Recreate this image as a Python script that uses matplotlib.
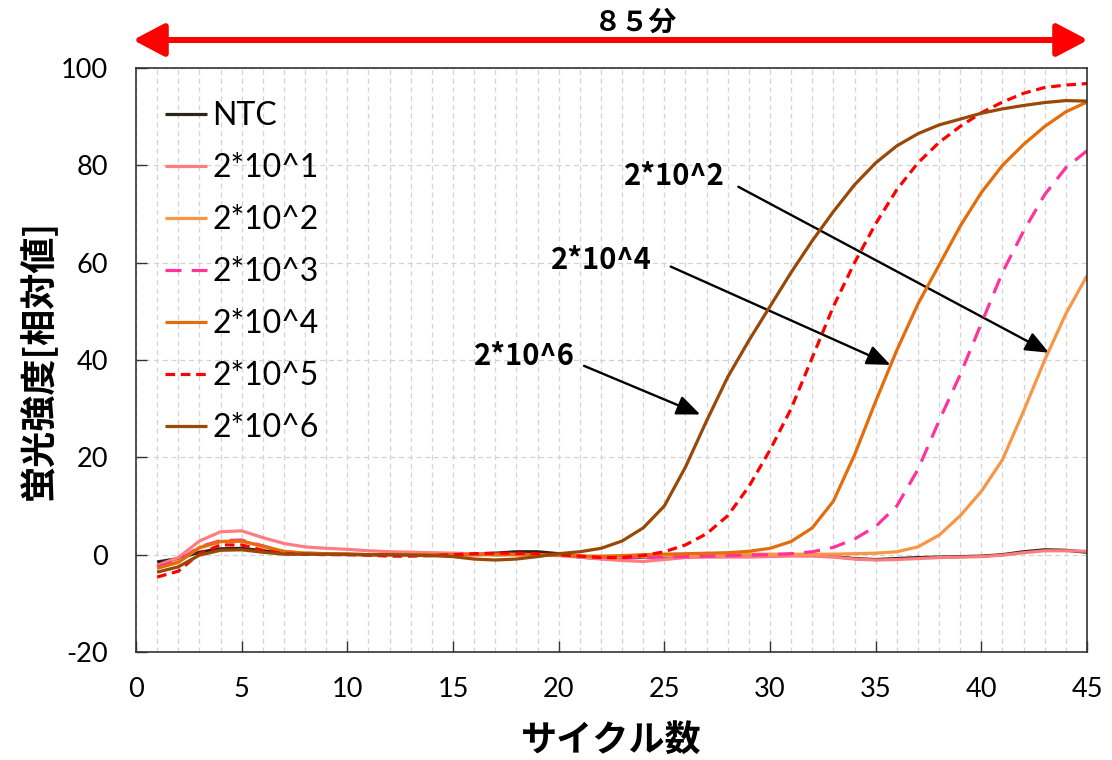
import matplotlib
matplotlib.use("Agg")
import matplotlib.pyplot as plt
from matplotlib.patches import FancyArrowPatch, ArrowStyle

plt.rcParams["axes.unicode_minus"] = False

cycles = list(range(1, 46))

ntc = [-1.5, -0.8, 0.5, 1.2, 1.3, 0.8, 0.3, 0.2, 0.2, 0.1,
       0.0, 0.0, 0.0, 0.0, 0.0, 0.1, 0.3, 0.6, 0.6, 0.2,
       -0.5, -0.8, -0.7, -0.5, -0.3, -0.2, -0.1, 0.0, 0.0, 0.0,
       0.0, -0.1, -0.4, -0.8, -1.0, -0.8, -0.6, -0.5, -0.4, -0.3,
       0.0, 0.6, 1.0, 0.9, 0.5]
s1 = [-2.2, -0.6, 2.8, 4.7, 4.9, 3.5, 2.3, 1.6, 1.3, 1.1,
      0.8, 0.6, 0.5, 0.4, 0.3, 0.2, 0.1, 0.1, 0.0, -0.2,
      -0.5, -0.9, -1.2, -1.4, -1.0, -0.6, -0.5, -0.5, -0.5, -0.4,
      -0.3, -0.3, -0.5, -0.9, -1.1, -1.0, -0.8, -0.6, -0.5, -0.4,
      -0.1, 0.4, 0.8, 0.8, 0.7]
s2 = [-2.6, -1.4, 1.5, 2.7, 2.8, 1.8, 0.7, 0.3, 0.2, 0.1,
      0.0, 0.0, 0.0, 0.0, 0.0, 0.0, 0.0, 0.0, 0.0, 0.0,
      -0.3, -0.5, -0.5, -0.4, -0.2, 0.0, 0.0, 0.1, 0.1, 0.1,
      0.1, 0.1, 0.1, 0.2, 0.3, 0.6, 1.6, 4.0, 8.0, 13.0,
      19.5, 29.5, 40.0, 49.5, 57.3]
s3 = [-2.5, -1.3, 1.6, 2.9, 3.0, 1.8, 0.6, 0.3, 0.2, 0.1,
      0.0, 0.0, 0.0, 0.0, 0.0, 0.0, 0.0, 0.0, 0.0, -0.1,
      -0.3, -0.5, -0.6, -0.6, -0.5, -0.4, -0.3, -0.2, -0.1, 0.0,
      0.2, 0.6, 1.5, 3.2, 5.8, 10.0, 17.5, 27.5, 37.0, 47.5,
      58.0, 66.5, 74.0, 79.5, 83.0]
s4 = [-2.8, -1.6, 1.4, 2.7, 2.8, 1.7, 0.6, 0.3, 0.2, 0.1,
      0.0, 0.0, 0.0, 0.0, 0.0, 0.0, 0.0, 0.0, 0.0, -0.1,
      -0.3, -0.3, -0.2, 0.0, 0.1, 0.2, 0.3, 0.4, 0.7, 1.3,
      2.7, 5.5, 11.0, 20.5, 31.5, 42.0, 51.5, 59.5, 67.5, 74.4,
      80.0, 84.3, 88.0, 91.0, 93.0]
s5 = [-4.6, -3.4, 0.2, 2.0, 2.0, 0.9, 0.2, 0.1, 0.0, 0.0,
      -0.1, -0.3, -0.3, -0.2, 0.0, 0.2, 0.3, 0.3, 0.2, 0.0,
      -0.3, -0.6, -0.6, -0.2, 0.6, 2.0, 4.3, 8.0, 14.0, 21.5,
      30.0, 40.5, 51.0, 60.0, 68.0, 75.0, 80.5, 84.7, 88.0, 90.8,
      93.0, 94.8, 96.0, 96.5, 96.8]
s6 = [-3.6, -2.5, -0.1, 0.9, 1.0, 0.5, 0.1, 0.1, 0.1, 0.0,
      0.0, 0.0, -0.1, -0.2, -0.4, -0.9, -1.1, -0.9, -0.4, 0.2,
      0.6, 1.3, 2.8, 5.5, 10.0, 18.0, 27.5, 36.5, 44.0, 51.0,
      58.0, 64.5, 70.5, 76.0, 80.5, 84.0, 86.5, 88.3, 89.5, 90.7,
      91.6, 92.3, 92.9, 93.3, 93.2]

labels = ["NTC", "2*10^1", "2*10^2", "2*10^3", "2*10^4", "2*10^5", "2*10^6"]
series = [ntc, s1, s2, s3, s4, s5, s6]
colors = ["#2B2417", "#FF7C80", "#F79646", "#FF3399", "#E46C0A", "#FF0000", "#984807"]
styles = ["-", "-", "-", (0, (5.0, 3.2)), "-", (0, (3.0, 1.8)), "-"]

x_ticks = [0, 5, 10, 15, 20, 25, 30, 35, 40, 45]
y_ticks = [-20, 0, 20, 40, 60, 80, 100]

annot_texts = ["2*10^2", "2*10^4", "2*10^6"]
annot_text_pos = [(25.5, 77.8), (22.0, 60.6), (18.4, 40.8)]
annot_tail = [(28.5, 75.6), (25.3, 59.2), (21.2, 38.8)]
annot_tip = [(43.2, 41.5), (35.7, 39.0), (26.7, 28.8)]

CJK = ["Noto Sans CJK JP", "DejaVu Sans"]
NUMF = ["Lato", "DejaVu Sans"]

fig = plt.figure(figsize=(11.12, 7.6), dpi=100)
ax = fig.add_axes([136 / 1112, 1 - 652 / 760, (1087 - 136) / 1112, (652 - 68) / 760])

for yv, lab, c, ls in zip(series, labels, colors, styles):
    ax.plot(cycles, yv, color=c, linestyle=ls, linewidth=2.3, label=lab,
            solid_capstyle="butt", dash_capstyle="butt", solid_joinstyle="round")

ax.set_xlim(0, 45)
ax.set_ylim(-20, 100)
ax.set_xticks(x_ticks)
ax.set_yticks(y_ticks)
ax.set_xticks(cycles, minor=True)
ax.grid(True, which="both", axis="x", color="#D3D3D3", linestyle=(0, (4, 3)), linewidth=0.9)
ax.grid(True, which="major", axis="y", color="#D3D3D3", linestyle=(0, (4, 3)), linewidth=0.9)
ax.set_axisbelow(True)
ax.tick_params(axis="both", which="major", direction="in", length=8, width=1.0,
               labelsize=19.5, color="#333333")
ax.tick_params(axis="x", which="minor", length=0)
ax.tick_params(axis="y", pad=20)
ax.tick_params(axis="x", pad=18)
for lab in ax.get_xticklabels() + ax.get_yticklabels():
    lab.set_family(NUMF)
for sp in ax.spines.values():
    sp.set_color("#333333")
    sp.set_linewidth(1.2)

ax.set_xlabel("サイクル数", family=CJK, fontsize=26, fontweight="bold", labelpad=14)
ax.set_ylabel("蛍光強度[相対値]", family=CJK, fontsize=26, fontweight="bold", labelpad=2)

leg = ax.legend(loc="upper left", bbox_to_anchor=(165 / 1112, 1 - 101 / 760),
                bbox_transform=fig.transFigure, frameon=False,
                prop={"family": NUMF, "size": 23}, handlelength=1.3,
                handletextpad=0.18, labelspacing=0.69, borderpad=0, borderaxespad=0)

for t, tp, tail, tip in zip(annot_texts, annot_text_pos, annot_tail, annot_tip):
    ax.text(tp[0], tp[1], t, family=CJK, fontsize=21, fontweight="bold",
            ha="center", va="center", color="black")
    arr = FancyArrowPatch(tail, tip, arrowstyle=ArrowStyle("-|>", head_length=1.2, head_width=0.5),
                          mutation_scale=12, color="black", linewidth=1.7,
                          shrinkA=0, shrinkB=0)
    ax.add_patch(arr)

red = FancyArrowPatch((133 / 1112, 1 - 40 / 760), (1088 / 1112, 1 - 40 / 760),
                      transform=fig.transFigure,
                      arrowstyle=ArrowStyle("<|-|>", head_length=0.95, head_width=0.5),
                      mutation_scale=20, color="#FF0000", linewidth=4.3,
                      shrinkA=0, shrinkB=0)
fig.patches.append(red)
fig.text(636 / 1112, 1 - 23 / 760, "８５分", family=CJK, fontsize=20, fontweight="bold",
         ha="center", va="center")

fig.savefig("out.png", dpi=100)
